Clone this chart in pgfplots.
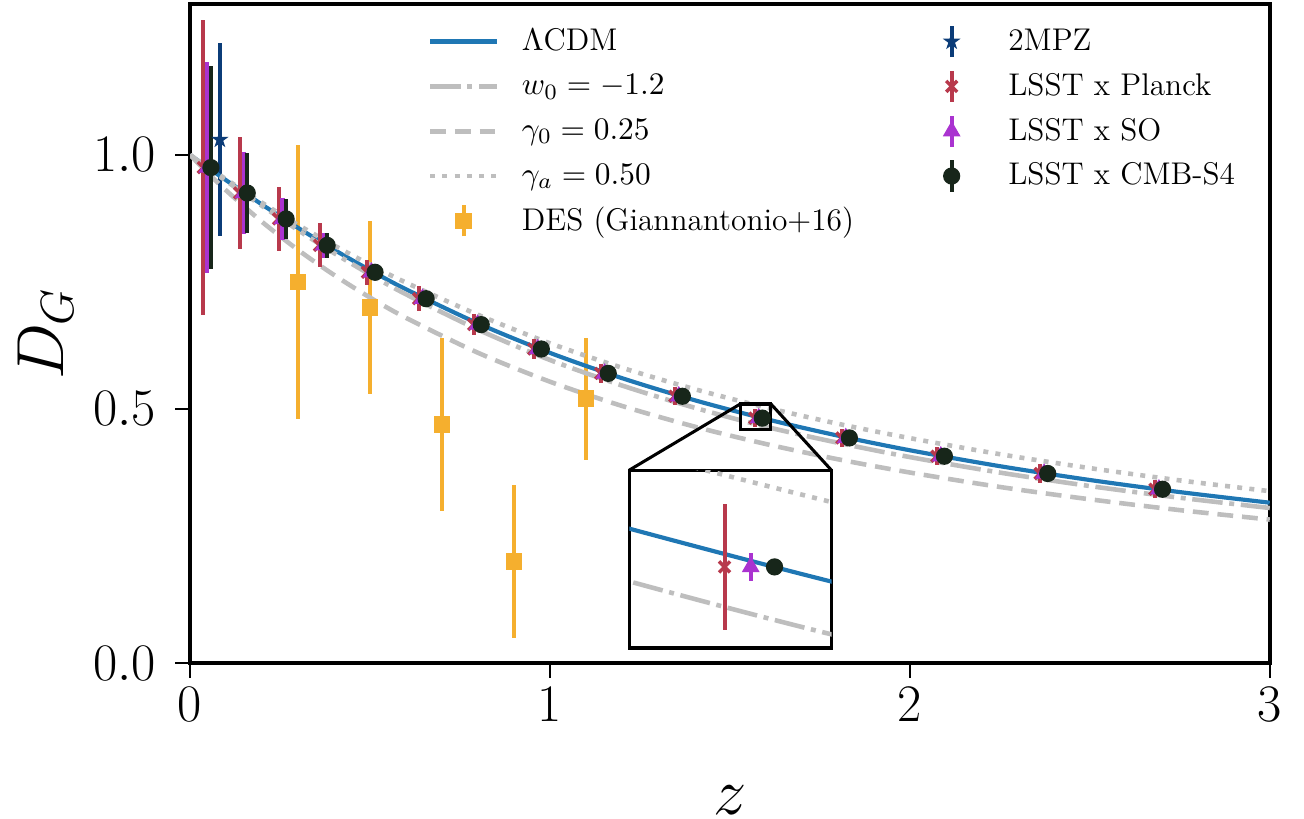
\RequirePackage{fix-cm}
\documentclass[border=0pt]{standalone}
\usepackage{pgfplots}
\usepackage{pgfplotstable}
\pgfplotsset{compat=1.18}

\definecolor{lcdm}{HTML}{1F77B4}
\definecolor{thgray}{HTML}{BEBEBE}
\definecolor{desc}{HTML}{F5AF2E}
\definecolor{mpz}{HTML}{0B3C78}
\definecolor{planck}{HTML}{B8394C}
\definecolor{soc}{HTML}{AA33D0}
\definecolor{sfour}{HTML}{17261A}

\pgfdeclareplotmark{fstar}{%
  \pgfpathmoveto{\pgfpointpolar{90}{\pgfplotmarksize}}%
  \pgfpathlineto{\pgfpointpolar{126}{0.382\pgfplotmarksize}}%
  \pgfpathlineto{\pgfpointpolar{162}{\pgfplotmarksize}}%
  \pgfpathlineto{\pgfpointpolar{198}{0.382\pgfplotmarksize}}%
  \pgfpathlineto{\pgfpointpolar{234}{\pgfplotmarksize}}%
  \pgfpathlineto{\pgfpointpolar{270}{0.382\pgfplotmarksize}}%
  \pgfpathlineto{\pgfpointpolar{306}{\pgfplotmarksize}}%
  \pgfpathlineto{\pgfpointpolar{342}{0.382\pgfplotmarksize}}%
  \pgfpathlineto{\pgfpointpolar{18}{\pgfplotmarksize}}%
  \pgfpathlineto{\pgfpointpolar{54}{0.382\pgfplotmarksize}}%
  \pgfpathclose
  \pgfusepathqfillstroke
}

% theory curves: z, LCDM, w0=-1.2, gamma0=0.25, gamma_a=0.50
\pgfplotstableread{
z L W G A
0.00 1.0000 1.0000 1.0000 1.0000
0.05 0.9750 0.9743 0.9641 0.9760
0.10 0.9503 0.9489 0.9303 0.9522
0.20 0.9023 0.8996 0.8683 0.9059
0.30 0.8566 0.8520 0.8131 0.8624
0.40 0.8135 0.8068 0.7637 0.8220
0.50 0.7732 0.7647 0.7193 0.7840
0.60 0.7356 0.7257 0.6794 0.7488
0.80 0.6684 0.6562 0.6106 0.6854
1.00 0.6104 0.5964 0.5537 0.6293
1.20 0.5607 0.5462 0.5060 0.5812
1.40 0.5176 0.5028 0.4656 0.5394
1.60 0.4802 0.4650 0.4310 0.5030
1.80 0.4475 0.4335 0.4010 0.4709
2.00 0.4187 0.4053 0.3749 0.4426
2.25 0.3874 0.3748 0.3465 0.4110
2.50 0.3602 0.3483 0.3222 0.3836
2.75 0.3364 0.3253 0.3009 0.3594
3.00 0.3155 0.3051 0.2823 0.3382
}\theory

\pgfplotstableread{
z D e
0.058 0.975 0.200
0.159 0.925 0.078
0.267 0.874 0.040
0.381 0.822 0.024
0.514 0.769 0.012
0.656 0.717 0.008
0.809 0.666 0.006
0.976 0.618 0.004
1.162 0.570 0.003
1.368 0.525 0.003
1.590 0.482 0.002
1.832 0.443 0.002
2.096 0.407 0.002
2.383 0.373 0.002
2.702 0.342 0.002
}\sfourtab

\pgfplotstableread{
z D e
0.048 0.975 0.208
0.149 0.925 0.080
0.257 0.874 0.042
0.371 0.822 0.025
0.504 0.769 0.013
0.646 0.717 0.009
0.799 0.666 0.007
0.966 0.618 0.005
1.152 0.570 0.004
1.358 0.525 0.004
1.580 0.482 0.004
1.822 0.443 0.004
2.086 0.407 0.004
2.373 0.373 0.004
2.692 0.342 0.004
}\sotab

\pgfplotstableread{
z D e
0.037 0.975 0.290
0.138 0.925 0.111
0.246 0.874 0.063
0.360 0.822 0.043
0.493 0.769 0.025
0.635 0.717 0.025
0.788 0.666 0.021
0.955 0.618 0.019
1.141 0.570 0.018
1.347 0.525 0.018
1.569 0.482 0.018
1.811 0.443 0.018
2.075 0.407 0.018
2.362 0.373 0.018
2.681 0.342 0.018
}\plancktab

\pgfplotstableread{
z D e
0.3 0.75 0.27
0.5 0.70 0.17
0.7 0.47 0.17
0.9 0.20 0.15
1.1 0.52 0.12
}\destab

\pgfplotstableread{
z D e
0.083 1.03 0.19
}\mpztab

\pgfplotsset{
  lcdmline/.style={lcdm, line width=1.5pt, solid},
  wline/.style={thgray, line width=1.65pt, dash pattern=on 11pt off 2.4pt on 1.8pt off 2.4pt},
  gline/.style={thgray, line width=1.65pt, dash pattern=on 5.7pt off 3.2pt},
  aline/.style={thgray, line width=1.65pt, dash pattern=on 1.8pt off 2.6pt},
  planckst/.style={planck, mark=x, mark size=2.8pt, mark options={line width=1.25pt, solid}},
  sost/.style={soc, mark=triangle*, mark size=3.3pt, mark options={solid}},
  sfourst/.style={sfour, mark=*, mark size=2.9pt, mark options={solid}},
  mpzst/.style={mpz, mark=fstar, mark size=2.7pt, mark options={solid}},
  desst/.style={desc, mark=square*, mark size=2.8pt, mark options={solid}},
  errs/.style={only marks, error bars/y dir=both, error bars/y explicit,
     error bars/error mark=none,
     error bars/error bar style={line width=1.45pt, solid, #1}},
  errlegend/.style={legend image code/.code={
     \path (0pt,0pt) (24pt,0pt);
     \draw[##1, line width=1.45pt, mark=none, solid] (12pt,-5.6pt) -- (12pt,5.6pt);
     \draw[##1, only marks] plot coordinates {(12pt,0pt)};
  }},
}

\begin{document}
\begin{tikzpicture}
\useasboundingbox (-68.47pt,-55.86pt) rectangle (401.44pt,238.92pt);
\begin{axis}[
  at={(0pt,0pt)}, anchor=south west,
  scale only axis, width=389.1pt, height=237.48pt,
  xmin=0, xmax=3, ymin=0, ymax=1.297,
  xtick={0,1,2,3}, ytick={0,0.5,1},
  tick label style={font=\fontsize{19}{21}\selectfont},
  yticklabel style={xshift=-3.4pt, /pgf/number format/.cd, fixed, fixed zerofill, precision=1},
  tick align=outside, tick pos=left,
  major tick length=5.3pt,
  every tick/.style={black, line width=0.9pt},
  axis line style={line width=1.4pt},
  xlabel={$z$}, ylabel={$D_G$},
  label style={font=\fontsize{24}{28}\selectfont, inner sep=0pt},
  xlabel style={at={(axis description cs:0.5,-0.2079)}, anchor=center},
  ylabel style={at={(axis description cs:-0.1336,0.5)}, anchor=center},
  legend columns=2,
  legend cell align=left,
  legend image code/.code={\draw[#1] (0pt,0pt) -- (24pt,0pt);},
  legend style={at={(axis description cs:0.2204,0.9696)}, anchor=north west,
     draw=none, fill=none, inner sep=0pt, outer sep=0pt,
     font=\fontsize{11.3}{13}\selectfont, row sep=3.5pt,
     nodes={inner sep=0pt},
     /tikz/every odd column/.append style={column sep=8.2pt},
     /tikz/every even column/.append style={column sep=23.0pt}},
]
\addlegendimage{lcdmline}
\addlegendentry{$\Lambda$CDM}
\addlegendimage{mpzst, only marks, errlegend}
\addlegendentry{2MPZ}
\addlegendimage{wline}
\addlegendentry{$w_0=-1.2$}
\addlegendimage{planckst, only marks, errlegend}
\addlegendentry{LSST x Planck}
\addlegendimage{gline}
\addlegendentry{$\gamma_0=0.25$}
\addlegendimage{sost, only marks, errlegend}
\addlegendentry{LSST x SO}
\addlegendimage{aline}
\addlegendentry{$\gamma_a=0.50$}
\addlegendimage{sfourst, only marks, errlegend}
\addlegendentry{LSST x CMB-S4}
\addlegendimage{desst, only marks, errlegend}
\addlegendentry{DES (Giannantonio+16)}

\addplot[desst, errs=desc, forget plot] table[x=z, y=D, y error=e]{\destab};
\addplot[mpzst, errs=mpz, forget plot] table[x=z, y=D, y error=e]{\mpztab};
\addplot[lcdmline, smooth, forget plot] table[x=z, y=L]{\theory};
\addplot[wline, smooth, forget plot] table[x=z, y=W]{\theory};
\addplot[gline, smooth, forget plot] table[x=z, y=G]{\theory};
\addplot[aline, smooth, forget plot] table[x=z, y=A]{\theory};
\addplot[planckst, errs=planck, forget plot] table[x=z, y=D, y error=e]{\plancktab};
\addplot[sost, errs=soc, forget plot] table[x=z, y=D, y error=e]{\sotab};
\addplot[sfourst, errs=sfour, forget plot] table[x=z, y=D, y error=e]{\sfourtab};

\draw[black, line width=1.1pt] (axis cs:1.529,0.4587) rectangle (axis cs:1.614,0.5098);
\draw[black, line width=1.1pt] (axis cs:1.529,0.5098) -- (axis cs:1.2202,0.3795);
\draw[black, line width=1.1pt] (axis cs:1.614,0.5098) -- (axis cs:1.7821,0.3795);
\end{axis}

\begin{axis}[
  at={(158.3pt,5.4pt)}, anchor=south west,
  scale only axis, width=72.9pt, height=64.1pt,
  xmin=1.529, xmax=1.614, ymin=0.4587, ymax=0.5098,
  xtick=\empty, ytick=\empty,
  axis line style={line width=1.1pt},
  axis background/.style={fill=white},
]
\addplot[lcdmline, smooth] table[x=z, y=L]{\theory};
\addplot[wline, smooth] table[x=z, y=W]{\theory};
\addplot[gline, smooth] table[x=z, y=G]{\theory};
\addplot[aline, smooth] table[x=z, y=A]{\theory};
\addplot[planckst, errs=planck] table[x=z, y=D, y error=e]{\plancktab};
\addplot[sost, errs=soc] table[x=z, y=D, y error=e]{\sotab};
\addplot[sfourst, errs=sfour] table[x=z, y=D, y error=e]{\sfourtab};
\end{axis}
\end{tikzpicture}
\end{document}
